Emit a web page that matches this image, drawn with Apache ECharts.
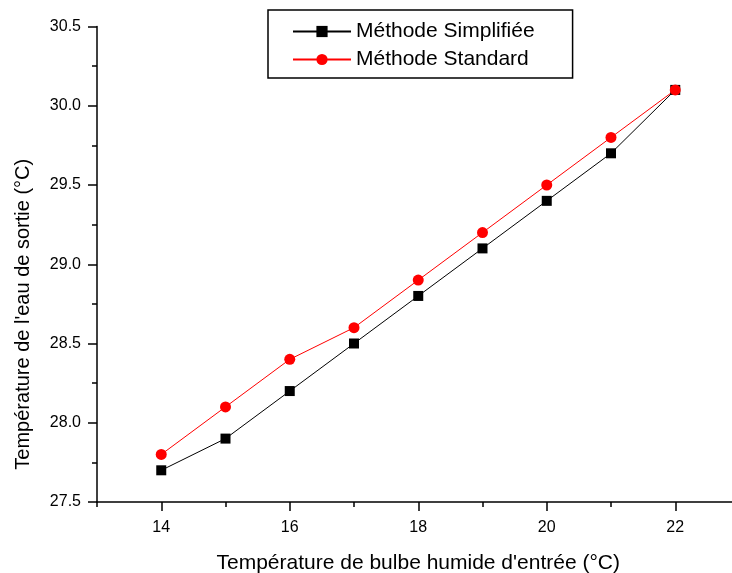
<!DOCTYPE html>
<html>
<head>
<meta charset="utf-8">
<script src="https://cdn.jsdelivr.net/npm/echarts@6/dist/echarts.min.js"></script>
<style>html,body{margin:0;padding:0;background:#fff;}#c{width:732px;height:573px;}</style>
</head>
<body>
<div id="c"></div>
<script>
const xValues = [14, 15, 16, 17, 18, 19, 20, 21, 22];
const simplifiee = [27.7, 27.9, 28.2, 28.5, 28.8, 29.1, 29.4, 29.7, 30.1];
const standard = [27.8, 28.1, 28.4, 28.6, 28.9, 29.2, 29.5, 29.8, 30.1];
const xMajorTicks = [14, 16, 18, 20, 22];
const xMinorTicks = [13, 15, 17, 19, 21, 23];
const seriesNames = ['Méthode Simplifiée', 'Méthode Standard'];
const xTitle = "Température de bulbe humide d'entrée (°C)";
const yTitle = "Température de l'eau de sortie (°C)";

const font = 'Liberation Sans, Arial, sans-serif';
const chart = echarts.init(document.getElementById('c'), null, {renderer: 'canvas'});
chart.setOption({
  animation: false,
  backgroundColor: '#ffffff',
  grid: {left: 97, top: 26.5, right: -7.5, bottom: 71, containLabel: false, outerBoundsMode: 'none'},
  legend: {
    orient: 'vertical',
    left: 268, top: 10,
    padding: [11, 38, 8, 24],
    itemGap: 7,
    itemWidth: 58, itemHeight: 14,
    borderColor: '#000', borderWidth: 1.5,
    backgroundColor: '#fff',
    textStyle: {fontFamily: font, fontSize: 21, color: '#000', lineHeight: 21},
    data: seriesNames
  },
  xAxis: [{
    type: 'value', min: 13, max: 23,
    name: xTitle, nameLocation: 'middle', nameGap: 51,
    nameTextStyle: {fontFamily: font, fontSize: 21, color: '#000'},
    axisLine: {show: true, lineStyle: {color: '#000', width: 1.5}},
    axisTick: {show: true, inside: false, length: 9, customValues: xMajorTicks, lineStyle: {color: '#000', width: 1.5}},
    axisLabel: {show: true, customValues: xMajorTicks, margin: 18, fontFamily: font, fontSize: 16, color: '#000'},
    splitLine: {show: false}
  }, {
    type: 'value', min: 13, max: 23, position: 'bottom', gridIndex: 0,
    axisLine: {show: false},
    axisTick: {show: true, length: 5, customValues: xMinorTicks, lineStyle: {color: '#000', width: 1.5}},
    axisLabel: {show: false},
    splitLine: {show: false}
  }],
  yAxis: {
    type: 'value', min: 27.5, max: 30.5, interval: 0.5,
    name: yTitle, nameLocation: 'middle', nameGap: 64,
    nameTextStyle: {fontFamily: font, fontSize: 20, color: '#000', padding: [0, 100, 0, 0]},
    axisLine: {show: true, lineStyle: {color: '#000', width: 1.5}},
    axisTick: {show: true, length: 9, lineStyle: {color: '#000', width: 1.5}},
    minorTick: {show: true, splitNumber: 2, length: 5, lineStyle: {color: '#000', width: 1.5}},
    axisLabel: {margin: 16, fontFamily: font, fontSize: 16, color: '#000', formatter: v => v.toFixed(1)},
    splitLine: {show: false}
  },
  series: [{
    name: seriesNames[0], type: 'line',
    data: xValues.map((x, i) => [x, simplifiee[i]]),
    symbol: 'rect', symbolSize: 10,
    itemStyle: {color: '#000'},
    lineStyle: {color: '#000', width: 1}
  }, {
    name: seriesNames[1], type: 'line',
    data: xValues.map((x, i) => [x, standard[i]]),
    symbol: 'circle', symbolSize: 11,
    itemStyle: {color: '#ff0000'},
    lineStyle: {color: '#ff0000', width: 1}
  }]
});
</script>
</body>
</html>
